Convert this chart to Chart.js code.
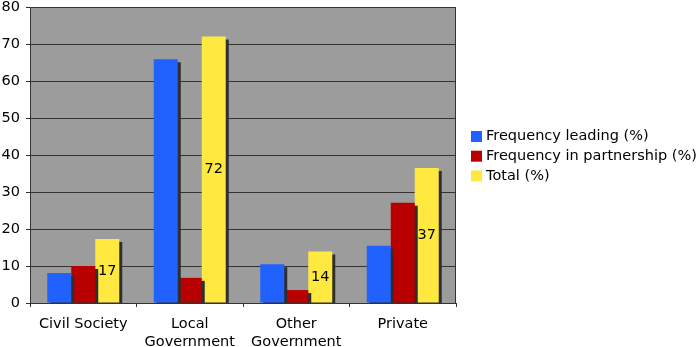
<!DOCTYPE html>
<html>
<head>
<meta charset="utf-8">
<script src="https://cdn.jsdelivr.net/npm/chart.js@4/dist/chart.umd.min.js"></script>
<style>
  html, body { margin: 0; padding: 0; background: #fff; }
  #wrap { width: 698px; height: 347px; }
</style>
</head>
<body>
<div id="wrap"><canvas id="chart"></canvas></div>
<script>
const categories = ['Civil Society', ['Local', 'Government'], ['Other', 'Government'], 'Private'];
const leading = [8.1, 65.9, 10.5, 15.5];
const partnership = [10.0, 6.8, 3.5, 27.1];
const total = [17.3, 72.0, 13.9, 36.5];
const totalLabels = ['17', '72', '14', '37'];

const FONT = '"DejaVu Sans", Verdana, sans-serif';
Chart.defaults.font.family = FONT;
Chart.defaults.font.size = 14.5;
Chart.defaults.color = '#000';

// gray plot background and right border
const plotBg = {
    id: 'plotBg',
    beforeDraw(chart) {
        const {ctx, chartArea: a} = chart;
        ctx.save();
        ctx.fillStyle = '#9c9c9c';
        ctx.fillRect(a.left, a.top, a.right - a.left, a.bottom - a.top);
        ctx.restore();
    },
    afterDraw(chart) {
        const {ctx, chartArea: a} = chart;
        ctx.save();
        ctx.strokeStyle = '#333';
        ctx.lineWidth = 1;
        ctx.beginPath();
        ctx.moveTo(Math.round(a.right) - 0.5, a.top);
        ctx.lineTo(Math.round(a.right) - 0.5, a.bottom);
        ctx.stroke();
        ctx.restore();
    }
};

// flat dark shadow behind each bar
const barShadow = {
    id: 'barShadow',
    beforeDatasetDraw(chart) {
        const ctx = chart.ctx;
        ctx.save();
        ctx.shadowColor = '#2e2e2e';
        ctx.shadowOffsetX = 3;
        ctx.shadowOffsetY = 3;
        ctx.shadowBlur = 0;
    },
    afterDatasetDraw(chart) {
        chart.ctx.restore();
    }
};

// value labels in the middle of the Total bars
const totalText = {
    id: 'totalText',
    afterDatasetsDraw(chart) {
        const ctx = chart.ctx;
        const meta = chart.getDatasetMeta(2);
        ctx.save();
        ctx.font = '14.5px ' + FONT;
        ctx.fillStyle = '#000';
        ctx.textAlign = 'center';
        ctx.textBaseline = 'middle';
        meta.data.forEach((bar, i) => {
            ctx.fillText(totalLabels[i], bar.x, (bar.y + bar.base) / 2);
        });
        ctx.restore();
    }
};

// legend on the right, drawn by hand so the long label is not cut
const sideLegend = {
    id: 'sideLegend',
    afterDraw(chart) {
        const ctx = chart.ctx;
        const x = chart.chartArea.right + 15;
        let y = 131;
        ctx.save();
        ctx.font = '14.5px ' + FONT;
        ctx.textBaseline = 'middle';
        chart.data.datasets.forEach(ds => {
            ctx.fillStyle = ds.backgroundColor;
            ctx.fillRect(x, y, 11, 11);
            ctx.fillStyle = '#000';
            ctx.fillText(ds.label, x + 15, y + 5.5);
            y += 19.7;
        });
        ctx.restore();
    }
};

const data = {
    labels: categories,
    datasets: [
        { label: 'Frequency leading (%)', data: leading, backgroundColor: '#2162ff' },
        { label: 'Frequency in partnership (%)', data: partnership, backgroundColor: '#b80000' },
        { label: 'Total (%)', data: total, backgroundColor: '#ffe840' }
    ]
};

const config = {
    type: 'bar',
    data,
    options: {
        responsive: true,
        maintainAspectRatio: false,
        animation: false,
        layout: {
            padding: { top: 7, left: 0, right: 242, bottom: 0 }
        },
        datasets: {
            bar: { barPercentage: 1, categoryPercentage: 0.676 }
        },
        scales: {
            x: {
                grid: { offset: true, drawOnChartArea: false, drawTicks: true, tickLength: 4, color: '#333' },
                border: { color: '#333' },
                ticks: { padding: 8, font: { lineHeight: 1.25 }, maxRotation: 0 },
                afterFit(scale) { scale.height = 44; scale.paddingLeft = 0; scale.paddingRight = 0; }
            },
            y: {
                min: 0,
                max: 80,
                ticks: { stepSize: 10, padding: 6, font: { lineHeight: 1 } },
                grid: { color: '#333', tickLength: 4 },
                border: { color: '#333' },
                afterFit(scale) { scale.width = 30; scale.paddingTop = 0; scale.paddingBottom = 0; }
            }
        },
        plugins: {
            legend: { display: false },
            tooltip: { enabled: false }
        }
    },
    plugins: [plotBg, barShadow, totalText, sideLegend]
};

var chart = document.getElementById('chart');
var myChart = new Chart(chart, config);
</script>
</body>
</html>
